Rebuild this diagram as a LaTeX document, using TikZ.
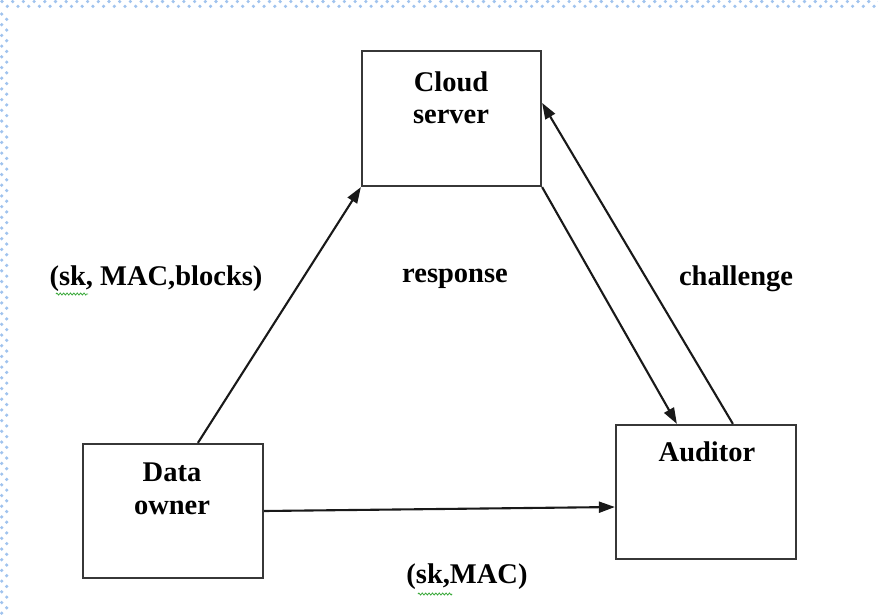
\documentclass[tikz,border=0pt]{standalone}
\usepackage{fontspec}
\setmainfont{Liberation Serif}
\usetikzlibrary{arrows.meta,calc,decorations.pathmorphing}
\definecolor{boxgray}{RGB}{55,55,55}
\definecolor{dotblue}{RGB}{160,195,238}
\definecolor{squig}{RGB}{60,170,60}
\tikzset{
  entity/.style={draw=boxgray,line width=2.2pt,minimum width=180pt,minimum height=134pt,inner sep=0pt},
  lbl/.style={font=\fontsize{28.5}{32}\selectfont\bfseries,inner sep=0pt,anchor=center},
  flow/.style={draw=black!90,line width=2.1pt,-{Triangle[length=16pt,width=11pt]}},
  squiggle/.style={draw=squig,line width=0.8pt,decorate,decoration={zigzag,amplitude=1pt,segment length=3.4pt}}
}
\begin{document}
\begin{tikzpicture}[x=1pt,y=-1pt]
\useasboundingbox (0,0) rectangle (878,614);
\fill[white] (0,0) rectangle (878,614);
% dotted page border (top and left)
\foreach \i in {0,...,82} {
  \fill[dotblue] (2+\i*10.7,1.5) circle (1.8);
  \fill[dotblue] (7.3+\i*10.7,6.3) circle (1.8);
}
\foreach \j in {0,...,56} {
  \fill[dotblue] (1.7,14+\j*10.7) circle (1.8);
  \fill[dotblue] (6.7,19.3+\j*10.7) circle (1.8);
}
% boxes
\node[entity,minimum width=179pt,minimum height=135pt] (cs) at (451.5,118.5) {};
\node[entity] (do) at (173,511) {};
\node[entity] (au) at (706,492) {};
% box texts
\node[lbl] (cs1) at (451,82) {Cloud};
\node[lbl] (cs2) at (451,117) {server};
\node[lbl] (do1) at (172,472) {Data};
\node[lbl] (do2) at (172,508) {owner};
\node[lbl] (au1) at (707,452) {Auditor};
% connectors
\draw[flow] ([xshift=116pt]do.north west) -- (cs.south west);
\draw[flow] (cs.south east) -- ([xshift=62pt]au.north west);
\draw[flow] ([xshift=118pt]au.north west) -- ([yshift=-53pt]cs.north east);
\draw[flow] (do.east) -- ([yshift=-15pt]au.west);
% labels
\node[lbl] (l1) at (156,279) {(sk, MAC,blocks)};
\node[lbl] (l2) at (455,279) {response};
\node[lbl] (l3) at (736,279) {challenge};
\node[lbl] (l4) at (467,577) {(sk,MAC)};
% spell-check squiggles
\coordinate (q1a) at (56,294); \coordinate (q1b) at (88,294);
\draw[squiggle] (q1a) -- (q1b);
\coordinate (q2a) at (418,594); \coordinate (q2b) at (452,594);
\draw[squiggle] (q2a) -- (q2b);
\end{tikzpicture}
\end{document}
